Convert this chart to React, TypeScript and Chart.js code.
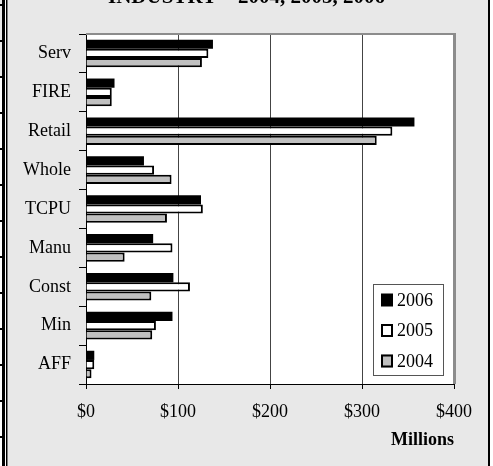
import React, { useEffect, useRef } from "react";
import { Chart, registerables } from "chart.js";

Chart.register(...registerables);

const categories = ["Serv", "FIRE", "Retail", "Whole", "TCPU", "Manu", "Const", "Min", "AFF"];
const seriesLabels = ["2006", "2005", "2004"];
const values2006 = [138, 31, 357, 63, 125, 73, 95, 94, 9];
const values2005 = [133, 28, 333, 74, 127, 94, 113, 76, 9];
const values2004 = [126, 28, 316, 93, 88, 42, 71, 72, 6];
const xMin = 0;
const xMax = 400;
const xStep = 100;
const titleText = "INDUSTRY \u2013 2004, 2005, 2006";
const axisTitle = "Millions";

const FONT = '"Liberation Serif", "Times New Roman", serif';
const W = 493;
const H = 466;

const decorPlugin = {
  id: "decor",
  beforeDraw(chart: any) {
    const ctx = chart.ctx;
    const ca = chart.chartArea;
    ctx.save();
    // page background
    ctx.fillStyle = "#ffffff";
    ctx.fillRect(0, 0, W, H);
    // gray panel
    ctx.fillStyle = "#e8e8e8";
    ctx.fillRect(8, 0, 480, H);
    ctx.fillStyle = "#000000";
    ctx.fillRect(488, 0, 2, H);
    // left table lines
    ctx.fillStyle = "#e8e8e8";
    ctx.fillRect(0, 0, 2, 77);
    ctx.fillStyle = "#000000";
    ctx.fillRect(2, 0, 3, H);
    ctx.fillRect(6, 0, 1.5, H);
    for (let y = 5; y < H; y += 36) {
      ctx.fillRect(0, y - 1, 3, 2);
    }
    // title (cropped at top)
    ctx.fillStyle = "#000000";
    ctx.font = `bold 21px ${FONT}`;
    ctx.textAlign = "center";
    ctx.textBaseline = "alphabetic";
    ctx.fillText(titleText, 246.5, 3);
    // plot area
    ctx.fillStyle = "#ffffff";
    ctx.fillRect(ca.left, ca.top, ca.right - ca.left, ca.bottom - ca.top);
    ctx.restore();
  },
  afterDraw(chart: any) {
    const ctx = chart.ctx;
    const ca = chart.chartArea;
    ctx.save();
    // plot border (top + right, gray)
    ctx.fillStyle = "#8c8c8c";
    ctx.fillRect(ca.left, ca.top - 1, ca.right - ca.left + 2, 2);
    ctx.fillRect(ca.right - 1, ca.top - 1, 3, ca.bottom - ca.top + 1);
    // legend
    const lx = 373, ly = 284, lw = 71, lh = 92;
    ctx.fillStyle = "#ffffff";
    ctx.fillRect(lx, ly, lw, lh);
    ctx.strokeStyle = "#555555";
    ctx.lineWidth = 1;
    ctx.strokeRect(lx + 0.5, ly + 0.5, lw - 1, lh - 1);
    ctx.font = `18px ${FONT}`;
    ctx.textAlign = "left";
    ctx.textBaseline = "middle";
    chart.data.datasets.forEach((ds: any, i: number) => {
      const cy = 300 + i * 30.5;
      const bx = 381, bw = 12, bh = 13;
      const by = cy - bh / 2;
      ctx.fillStyle = ds.backgroundColor;
      ctx.fillRect(bx, by, bw, bh);
      if (ds.borderWidth > 0) {
        ctx.strokeStyle = "#000000";
        ctx.lineWidth = 2;
        ctx.strokeRect(bx + 1, by + 1, bw - 2, bh - 2);
      }
      ctx.fillStyle = "#000000";
      ctx.fillText(ds.label, 397, cy + 1);
    });
    ctx.restore();
  },
};

export default function App() {
  const canvasRef = useRef<HTMLCanvasElement | null>(null);

  useEffect(() => {
    const canvas = canvasRef.current;
    if (!canvas) return;
    const chart = new Chart(canvas, {
      type: "bar",
      data: {
        labels: categories,
        datasets: [
          { label: seriesLabels[0], data: values2006, backgroundColor: "#000000", borderColor: "#000000", borderWidth: 0 },
          { label: seriesLabels[1], data: values2005, backgroundColor: "#ffffff", borderColor: "#000000", borderWidth: 2 },
          { label: seriesLabels[2], data: values2004, backgroundColor: "#c0c0c0", borderColor: "#000000", borderWidth: 2 },
        ],
      },
      options: {
        indexAxis: "y",
        responsive: false,
        animation: false,
        devicePixelRatio: 1,
        datasets: { bar: { categoryPercentage: 0.71, barPercentage: 1 } },
        layout: { padding: { top: 34, right: 39, left: 0, bottom: 0 } },
        scales: {
          x: {
            type: "linear",
            min: xMin,
            max: xMax,
            ticks: {
              stepSize: xStep,
              callback: (v: any) => "$" + v,
              color: "#000000",
              font: { family: FONT, size: 18 },
              padding: 12,
              maxRotation: 0,
            },
            grid: { color: "#444444", tickColor: "#000000", tickLength: 5, lineWidth: 1 },
            border: { color: "#000000", width: 1 },
            title: {
              display: true,
              text: axisTitle,
              align: "end",
              color: "#000000",
              font: { family: FONT, size: 18, weight: "bold" },
              padding: { top: 0, bottom: 15 },
            },
            afterFit: (s: any) => {
              s.height = 82;
            },
          },
          y: {
            type: "category",
            ticks: { color: "#000000", font: { family: FONT, size: 18 }, padding: 8 },
            grid: { drawOnChartArea: false, tickLength: 7, tickColor: "#000000", offset: true },
            border: { color: "#000000", width: 1 },
            afterFit: (s: any) => {
              s.width = 86;
            },
          },
        },
        plugins: { legend: { display: false }, tooltip: { enabled: false }, title: { display: false } },
      },
      plugins: [decorPlugin],
    } as any);
    return () => chart.destroy();
  }, []);

  return (
    <div style={{ position: "fixed", left: 0, top: 0, width: W, height: H, overflow: "hidden", background: "#fff" }}>
      <canvas ref={canvasRef} width={W} height={H} style={{ display: "block", width: W, height: H }} />
    </div>
  );
}
